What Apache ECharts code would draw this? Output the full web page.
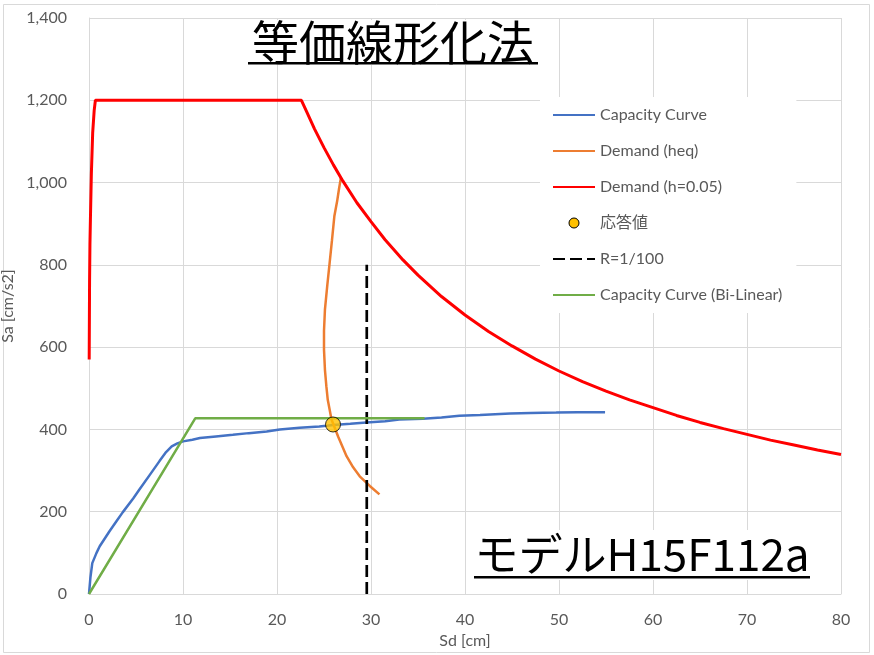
<!DOCTYPE html>
<html>
<head>
<meta charset="utf-8">
<script src="https://cdn.jsdelivr.net/npm/echarts@6/dist/echarts.min.js"></script>
<style>
  html, body { margin: 0; padding: 0; background: #fff; }
  #chart { width: 874px; height: 655px; }
</style>
</head>
<body>
<div id="chart"></div>
<script>
// Capacity curve (pushover, converted to Sd-Sa)
const capacitySd = [0, 0.15, 0.35, 0.8, 1.14, 2.2, 2.9, 3.6, 4.7, 5.4, 6.45, 7.5, 8.2, 8.8, 9.4, 10.0, 11.0, 11.8, 13.5, 15.3, 17.0, 18.9, 20.3, 22.4, 24.5, 26.0, 27.8, 29.5, 31.5, 33.0, 35.5, 37.5, 39.4, 41.6, 44.8, 47.0, 49.7, 52.0, 54.9];
const capacitySa = [0, 40, 75, 100, 116, 153, 176, 199, 232, 255, 289, 323, 345, 359, 366, 371, 375, 379, 383, 387, 391, 395, 400, 404, 407, 411, 414, 417, 420, 424, 426, 429, 433, 435, 439, 440, 441, 442, 442];

// Demand spectrum with equivalent damping
const heqSd = [26.8, 26.6, 26.4, 26.1, 25.85, 25.6, 25.35, 25.1, 25.0, 25.0, 25.1, 25.25, 25.4, 25.8, 26.5, 27.4, 28.1, 28.8, 29.9, 30.9];
const heqSa = [1012, 985, 955, 918, 860, 805, 750, 691, 640, 594, 545, 505, 472, 424, 383, 335, 308, 286, 262, 242];

// Demand spectrum, h = 0.05
const h05Sd = [0.02, 0.06, 0.1, 0.15, 0.25, 0.39, 0.55, 0.68, 22.6, 23.2, 24.0, 25.0, 26.0, 27.0, 28.5, 30.0, 31.5, 33.4, 35.0, 37.5, 40.0, 42.5, 45.0, 47.5, 50.0, 52.5, 55.0, 57.5, 60.0, 62.5, 65.0, 67.5, 70.0, 72.5, 75.0, 77.5, 80.0];
const h05Sa = [570, 760, 850, 910, 1020, 1120, 1175, 1200, 1200, 1170, 1130, 1085, 1043, 1004, 951, 905, 861, 812, 775, 723, 678, 638, 603, 571, 542, 516, 493, 472, 453, 434, 417, 402, 388, 374, 362, 350, 339];

// Response point
const responseSd = [25.96];
const responseSa = [412];

// Drift limit R = 1/100
const driftSd = [29.55, 29.55];
const driftSa = [0, 800];

// Bi-linear idealisation of the capacity curve
const bilinearSd = [0, 11.3, 35.7];
const bilinearSa = [0, 427, 427];

const seriesNames = ['Capacity Curve', 'Demand (heq)', 'Demand (h=0.05)', '応答値', 'R=1/100', 'Capacity Curve (Bi-Linear)'];

const xMin = 0, xMax = 80, xStep = 10;
const yMin = 0, yMax = 1400, yStep = 200;

const pairs = (xs, ys) => xs.map((x, i) => [x, ys[i]]);

const labelFont = 'Lato, "Noto Sans CJK JP", sans-serif';
const labelColor = '#595959';
const gridColor = '#D9D9D9';

const chart = echarts.init(document.getElementById('chart'), null, { renderer: 'canvas' });

chart.setOption({
  animation: false,
  backgroundColor: '#fff',
  grid: { left: 89, right: 33, top: 18, bottom: 61, containLabel: false, outerBoundsMode: 'none' },
  xAxis: {
    type: 'value', min: xMin, max: xMax, interval: xStep,
    name: 'Sd [cm]', nameLocation: 'middle', nameGap: 36,
    nameTextStyle: { color: labelColor, fontSize: 16, fontFamily: labelFont },
    axisLine: { show: true, lineStyle: { color: gridColor, width: 1 } },
    axisTick: { show: false },
    axisLabel: { color: labelColor, fontSize: 16, fontFamily: labelFont, margin: 18 },
    splitLine: { show: true, lineStyle: { color: gridColor, width: 1 } }
  },
  yAxis: {
    type: 'value', min: yMin, max: yMax, interval: yStep,
    name: 'Sa [cm/s2]', nameLocation: 'middle', nameGap: 61,
    nameTextStyle: { color: labelColor, fontSize: 16, fontFamily: labelFont },
    axisLine: { show: true, lineStyle: { color: gridColor, width: 1 } },
    axisTick: { show: false },
    axisLabel: {
      color: labelColor, fontSize: 16, fontFamily: labelFont, margin: 22,
      formatter: v => v.toLocaleString('en-US')
    },
    splitLine: { show: true, lineStyle: { color: gridColor, width: 1 } }
  },
  legend: {
    orient: 'vertical', left: 540, top: 97,
    padding: [10, 14, 10, 12],
    backgroundColor: '#fff',
    itemWidth: 42, itemHeight: 10, itemGap: 20, itemTextGap: 6,
    itemStyle: { opacity: 0 },
    textStyle: { color: labelColor, fontSize: 16, fontFamily: labelFont, lineHeight: 16 },
    data: [
      seriesNames[0], seriesNames[1], seriesNames[2],
      { name: seriesNames[3], icon: 'circle',
        itemStyle: { opacity: 1, color: '#FFC000', borderColor: '#000', borderWidth: 1 } },
      seriesNames[4], seriesNames[5]
    ]
  },
  series: [
    {
      name: seriesNames[0], type: 'line', data: pairs(capacitySd, capacitySa),
      symbol: 'none', z: 2,
      lineStyle: { color: '#4472C4', width: 2.5 }, itemStyle: { color: '#4472C4' }
    },
    {
      name: seriesNames[1], type: 'line', data: pairs(heqSd, heqSa),
      symbol: 'none', z: 2,
      lineStyle: { color: '#ED7D31', width: 2.5 }, itemStyle: { color: '#ED7D31' }
    },
    {
      name: seriesNames[2], type: 'line', data: pairs(h05Sd, h05Sa),
      symbol: 'none', z: 2,
      lineStyle: { color: '#FF0000', width: 3 }, itemStyle: { color: '#FF0000' }
    },
    {
      name: seriesNames[3], type: 'scatter', data: pairs(responseSd, responseSa),
      symbol: 'circle', symbolSize: 15, z: 5,
      itemStyle: { color: '#FFC000', borderColor: '#000', borderWidth: 1 }
    },
    {
      name: seriesNames[4], type: 'line', data: pairs(driftSd, driftSa),
      symbol: 'none', z: 3,
      lineStyle: { color: '#000', width: 2.7, type: [12, 5] }, itemStyle: { color: '#000' }
    },
    {
      name: seriesNames[5], type: 'line', data: pairs(bilinearSd, bilinearSa),
      symbol: 'none', z: 3,
      lineStyle: { color: '#70AD47', width: 2.5 }, itemStyle: { color: '#70AD47' }
    }
  ],
  graphic: [
    // chart frame
    { type: 'rect', shape: { x: 3.5, y: 4.5, width: 866, height: 648 },
      style: { fill: 'none', stroke: '#D9D9D9', lineWidth: 1 }, silent: true, z: 0 },
    // title
    { type: 'rect', shape: { x: 246, y: 20, width: 294, height: 45 },
      style: { fill: '#fff' }, silent: true, z: 10 },
    { type: 'text', x: 393, y: 42, silent: true, z: 11,
      style: { text: '等価線形化法', fill: '#000', font: '47px "Noto Sans CJK JP"',
               textAlign: 'center', textVerticalAlign: 'middle' } },
    { type: 'rect', shape: { x: 248, y: 62, width: 290, height: 2.5 },
      style: { fill: '#000' }, silent: true, z: 11 },
    // model label
    { type: 'rect', shape: { x: 470, y: 530, width: 345, height: 50 },
      style: { fill: '#fff' }, silent: true, z: 10 },
    { type: 'text', x: 642, y: 554, silent: true, z: 11,
      style: { text: 'モデルH15F112a', fill: '#000', font: '44px "Noto Sans CJK JP"',
               textAlign: 'center', textVerticalAlign: 'middle' } },
    { type: 'rect', shape: { x: 474, y: 576, width: 336, height: 2.5 },
      style: { fill: '#000' }, silent: true, z: 11 }
  ]
});
</script>
</body>
</html>
